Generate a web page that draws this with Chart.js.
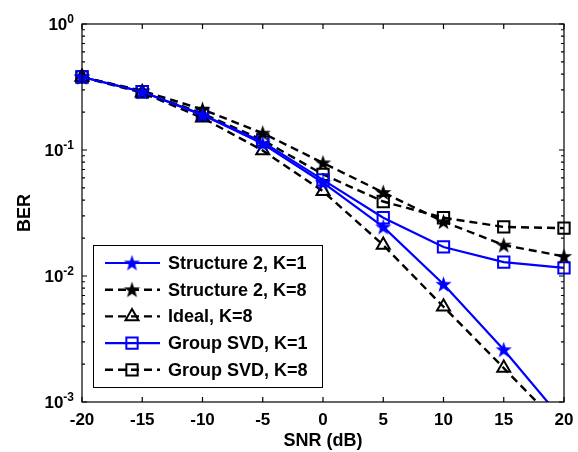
<!DOCTYPE html>
<html>
<head>
<meta charset="utf-8">
<script src="https://cdn.jsdelivr.net/npm/chart.js@4.4.1/dist/chart.umd.min.js"></script>
<style>
  html, body { margin: 0; padding: 0; background: #fff; }
  #wrap { width: 578px; height: 452px; position: relative; }
</style>
</head>
<body>
<div id="wrap"><canvas id="berChart" width="578" height="452"></canvas></div>
<script>
// SNR points (dB)
var snr = [-20, -15, -10, -5, 0, 5, 10, 15, 20];

// BER curves
var struct2K1 = [0.38, 0.29, 0.19, 0.112, 0.055, 0.0245, 0.0086, 0.0026, 0.0007];
var struct2K8 = [0.38, 0.295, 0.21, 0.136, 0.079, 0.046, 0.027, 0.0176, 0.0143];
var idealK8   = [0.38, 0.285, 0.18, 0.099, 0.047, 0.0176, 0.0057, 0.00186, 0.0006];
var gsvdK1    = [0.38, 0.29, 0.19, 0.116, 0.058, 0.029, 0.017, 0.0129, 0.0116];
var gsvdK8    = [0.38, 0.29, 0.195, 0.12, 0.064, 0.039, 0.029, 0.0245, 0.024];

var seriesNames = ['Structure 2, K=1', 'Structure 2, K=8', 'Ideal, K=8', 'Group SVD, K=1', 'Group SVD, K=8'];
var xTicks = [-20, -15, -10, -5, 0, 5, 10, 15, 20];
var yDecades = [0, -1, -2, -3];

var FAM = '"Liberation Sans", Arial, sans-serif';
var BLUE = '#0000ff';

// filled pentagram used as point style
function makeStar(color, r) {
    var c = document.createElement('canvas');
    var s = Math.ceil(r * 2 + 2);
    c.width = s; c.height = s;
    var g = c.getContext('2d');
    g.beginPath();
    for (var i = 0; i < 10; i++) {
        var rad = (i % 2 == 0) ? r : r * 0.4;
        var a = -Math.PI / 2 + i * Math.PI / 5;
        var px = s / 2 + rad * Math.cos(a), py = s / 2 + 0.5 + rad * Math.sin(a);
        if (i == 0) g.moveTo(px, py); else g.lineTo(px, py);
    }
    g.closePath();
    g.fillStyle = color;
    g.fill();
    return c;
}
var blueStar = makeStar(BLUE, 8.5);
var blackStar = makeStar('#000', 8.5);

function pts(arr) {
    return arr.map(function(v, i) { return { x: snr[i], y: v }; });
}

var clipBottom = { left: false, right: false, top: false, bottom: 0 };
var DASH = [8, 5];

var datasets = [
    { label: seriesNames[0], data: pts(struct2K1), borderColor: BLUE, borderWidth: 2.2,
      pointStyle: blueStar, pointRadius: 9 },
    { label: seriesNames[1], data: pts(struct2K8), borderColor: '#000', borderWidth: 2.4, borderDash: DASH,
      pointStyle: blackStar, pointRadius: 9 },
    { label: seriesNames[2], data: pts(idealK8), borderColor: '#000', borderWidth: 2.4, borderDash: DASH,
      pointStyle: 'triangle', pointRadius: 7.5, pointBorderColor: '#000', pointBackgroundColor: 'rgba(0,0,0,0)', pointBorderWidth: 2 },
    { label: seriesNames[3], data: pts(gsvdK1), borderColor: BLUE, borderWidth: 2.2,
      pointStyle: 'rect', pointRadius: 8, pointBorderColor: BLUE, pointBackgroundColor: 'rgba(0,0,0,0)', pointBorderWidth: 2 },
    { label: seriesNames[4], data: pts(gsvdK8), borderColor: '#000', borderWidth: 2.4, borderDash: DASH,
      pointStyle: 'rect', pointRadius: 8, pointBorderColor: '#000', pointBackgroundColor: 'rgba(0,0,0,0)', pointBorderWidth: 2 }
];
datasets.forEach(function(d) {
    d.fill = false;
    d.tension = 0;
    d.clip = clipBottom;
    if (!d.pointBorderColor) d.pointBorderColor = d.borderColor;
    if (!d.pointBackgroundColor) d.pointBackgroundColor = d.borderColor;
});

// axes frame, ticks, labels and legend box in matlab style
var matlabAxes = {
    id: 'matlabAxes',
    afterDraw: function(chart) {
        var ctx = chart.ctx, a = chart.chartArea;
        var xs = chart.scales.x, ys = chart.scales.y;
        ctx.save();
        ctx.strokeStyle = '#000';
        ctx.lineWidth = 1.2;
        ctx.setLineDash([]);
        ctx.strokeRect(a.left, a.top, a.right - a.left, a.bottom - a.top);

        // x ticks
        ctx.fillStyle = '#000';
        ctx.font = 'bold 17px ' + FAM;
        ctx.textAlign = 'center';
        ctx.textBaseline = 'middle';
        xTicks.forEach(function(t) {
            var px = xs.getPixelForValue(t);
            ctx.beginPath();
            ctx.moveTo(px, a.bottom); ctx.lineTo(px, a.bottom - 5);
            ctx.moveTo(px, a.top); ctx.lineTo(px, a.top + 5);
            ctx.stroke();
            ctx.fillText(String(t), px, a.bottom + 18);
        });
        ctx.font = 'bold 18px ' + FAM;
        ctx.fillText('SNR (dB)', (a.left + a.right) / 2, a.bottom + 39);

        // y ticks (decades + minor)
        yDecades.forEach(function(k) {
            var py = ys.getPixelForValue(Math.pow(10, k));
            ctx.beginPath();
            ctx.moveTo(a.left, py); ctx.lineTo(a.left + 5, py);
            ctx.moveTo(a.right, py); ctx.lineTo(a.right - 5, py);
            ctx.stroke();
            if (k > -3) {
                for (var m = 2; m <= 9; m++) {
                    var pm = ys.getPixelForValue(m * Math.pow(10, k - 1));
                    ctx.beginPath();
                    ctx.moveTo(a.left, pm); ctx.lineTo(a.left + 3, pm);
                    ctx.moveTo(a.right, pm); ctx.lineTo(a.right - 3, pm);
                    ctx.stroke();
                }
            }
            // label 10^k
            var sup = String(k);
            ctx.font = 'bold 12px ' + FAM;
            var sw = ctx.measureText(sup).width;
            ctx.textAlign = 'right';
            ctx.textBaseline = 'alphabetic';
            ctx.fillText(sup, a.left - 8, py - 1);
            ctx.font = 'bold 17px ' + FAM;
            ctx.fillText('10', a.left - 8 - sw, py + 6);
        });

        // y title
        ctx.save();
        ctx.translate(25, 213);
        ctx.rotate(-Math.PI / 2);
        ctx.textAlign = 'center';
        ctx.textBaseline = 'middle';
        ctx.font = 'bold 18px ' + FAM;
        ctx.fillText('BER', 0, 0);
        ctx.restore();

        // legend
        var lx = 93, ly = 245, lw = 229, lh = 142;
        ctx.fillStyle = '#fff';
        ctx.fillRect(lx, ly, lw, lh);
        ctx.strokeStyle = '#000';
        ctx.lineWidth = 1;
        ctx.strokeRect(lx + 0.5, ly + 0.5, lw, lh);
        chart.data.datasets.forEach(function(d, i) {
            var ry = 263 + i * 26.7;
            ctx.save();
            ctx.strokeStyle = d.borderColor;
            ctx.lineWidth = d.borderWidth;
            ctx.setLineDash(d.borderDash || []);
            ctx.beginPath();
            ctx.moveTo(105, ry); ctx.lineTo(160, ry);
            ctx.stroke();
            ctx.setLineDash([]);
            ctx.strokeStyle = d.pointBorderColor;
            ctx.fillStyle = d.pointBackgroundColor;
            ctx.lineWidth = d.pointBorderWidth || 1;
            Chart.helpers.drawPoint(ctx, { pointStyle: d.pointStyle, radius: d.pointRadius, borderWidth: d.pointBorderWidth || 1 }, 132, ry);
            ctx.restore();
            ctx.fillStyle = '#000';
            ctx.font = 'bold 18px ' + FAM;
            ctx.textAlign = 'left';
            ctx.textBaseline = 'middle';
            ctx.fillText(d.label, 168, ry + 1);
        });
        ctx.restore();
    }
};

var ctx = document.getElementById('berChart').getContext('2d');
var myChart = new Chart(ctx, {
    type: 'line',
    data: { datasets: datasets },
    options: {
        responsive: false,
        animation: false,
        devicePixelRatio: 1,
        layout: { padding: { left: 82, top: 24, right: 14, bottom: 50 } },
        plugins: { legend: { display: false }, tooltip: { enabled: false } },
        scales: {
            x: { type: 'linear', min: -20, max: 20, display: false },
            y: { type: 'logarithmic', min: 0.001, max: 1, display: false }
        }
    },
    plugins: [matlabAxes]
});
</script>
</body>
</html>
